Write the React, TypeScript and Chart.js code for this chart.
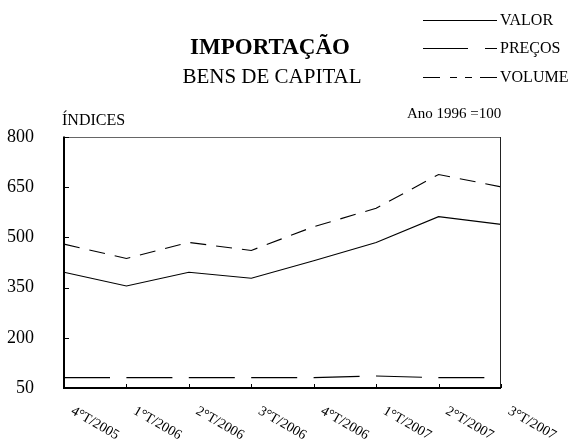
import React, { useEffect, useRef } from 'react';
import { Chart, registerables } from 'chart.js';

Chart.register(...registerables);

// ---- data ----
const categories = ['4°T/2005', '1°T/2006', '2°T/2006', '3°T/2006', '4°T/2006', '1°T/2007', '2°T/2007', '3°T/2007'];
const valorValues = [396, 355, 396, 378, 430, 485, 562, 539];
const precosValues = [81, 81, 81, 81, 81, 86, 81, 81];
const volumeValues = [480, 437, 485, 461, 532, 587, 688, 651];
const yTickValues = [50, 200, 350, 500, 650, 800];
const seriesNames = ['VALOR', 'PREÇOS', 'VOLUME'];
const titleText = 'IMPORTAÇÃO';
const subtitleText = 'BENS DE CAPITAL';
const yAxisTitle = 'ÍNDICES';
const baseNote = 'Ano 1996 =100';

const SERIF = '"Liberation Serif", "DejaVu Serif", "Times New Roman", serif';

// legend sample segments (x ranges) per series
const legendSegments: number[][][] = [
  [[423, 497]],
  [[423, 468], [485, 497]],
  [[423, 440], [450, 457], [465, 472], [480, 497]],
];
const legendRows = [20, 48, 77];

const decorPlugin = {
  id: 'decor',
  afterDraw(chart: any) {
    const ctx: CanvasRenderingContext2D = chart.ctx;
    const { left, right, top, bottom } = chart.chartArea;
    const xs = chart.scales.x;
    const ys = chart.scales.y;
    const seg = (x1: number, y1: number, x2: number, y2: number) => {
      ctx.beginPath();
      ctx.moveTo(x1, y1);
      ctx.lineTo(x2, y2);
      ctx.stroke();
    };
    ctx.save();
    ctx.setLineDash([]);
    // frame
    ctx.lineWidth = 1;
    ctx.strokeStyle = '#666';
    seg(left, top + 0.5, right, top + 0.5);
    ctx.strokeStyle = '#222';
    seg(right - 0.5, top, right - 0.5, bottom);
    ctx.strokeStyle = '#000';
    ctx.lineWidth = 2;
    seg(left, top - 0.5, left, bottom + 1);
    seg(left - 1, bottom, right, bottom);
    // ticks
    ctx.lineWidth = 1;
    ys.ticks.forEach((_t: any, i: number) => {
      const py = Math.round(ys.getPixelForTick(i)) + 0.5;
      seg(left, py, left + 5, py);
    });
    categories.forEach((_c, i) => {
      const px = Math.round(xs.getPixelForValue(i)) + 0.5;
      seg(px, bottom, px, bottom - 4);
    });
    // x labels rotated clockwise
    ctx.fillStyle = '#000';
    ctx.font = `14px ${SERIF}`;
    categories.forEach((c, i) => {
      const px = xs.getPixelForValue(i);
      ctx.save();
      ctx.translate(px + 8, bottom + 22);
      ctx.rotate((30 * Math.PI) / 180);
      ctx.textAlign = 'left';
      ctx.textBaseline = 'middle';
      ctx.fillText(c, 0, 0);
      ctx.restore();
    });
    // titles
    ctx.textAlign = 'center';
    ctx.textBaseline = 'alphabetic';
    ctx.font = `bold 23px ${SERIF}`;
    ctx.fillText(titleText, 270, 54);
    ctx.font = `21px ${SERIF}`;
    ctx.fillText(subtitleText, 272, 83);
    // axis title & note
    ctx.textAlign = 'left';
    ctx.font = `16px ${SERIF}`;
    ctx.fillText(yAxisTitle, 62, 125);
    ctx.font = `15px ${SERIF}`;
    ctx.fillText(baseNote, 407, 118);
    // legend
    ctx.font = `16px ${SERIF}`;
    ctx.textBaseline = 'middle';
    ctx.strokeStyle = '#000';
    ctx.lineWidth = 1;
    chart.data.datasets.forEach((ds: any, i: number) => {
      const yy = legendRows[i] + 0.5;
      legendSegments[i].forEach(([a, b]) => seg(a, yy, b, yy));
      ctx.fillText(ds.label, 500, legendRows[i] + 1);
    });
    ctx.restore();
  },
};

export default function App() {
  const ref = useRef<HTMLCanvasElement | null>(null);
  useEffect(() => {
    document.body.style.margin = '0';
    if (!ref.current) return;
    const chart = new Chart(ref.current, {
      type: 'line',
      data: {
        labels: categories,
        datasets: [
          { label: seriesNames[0], data: valorValues, borderColor: '#000', borderWidth: 1.1, pointRadius: 0, tension: 0, fill: false },
          { label: seriesNames[1], data: precosValues, borderColor: '#000', borderWidth: 1.1, borderDash: [46, 16.4], pointRadius: 0, tension: 0, fill: false },
          { label: seriesNames[2], data: volumeValues, borderColor: '#000', borderWidth: 1.1, borderDash: [16, 10], pointRadius: 0, tension: 0, fill: false },
        ],
      },
      options: {
        animation: false,
        responsive: false,
        maintainAspectRatio: false,
        layout: { padding: { top: 137, right: 87, bottom: 56, left: 0 } },
        plugins: {
          legend: { display: false },
          title: { display: false },
          tooltip: { enabled: false },
        },
        scales: {
          x: {
            type: 'category',
            offset: false,
            grid: { display: false },
            border: { display: false },
            ticks: { display: false },
            afterFit: (s: any) => { s.height = 0; },
          },
          y: {
            min: 50,
            max: 800,
            grid: { display: false },
            border: { display: false },
            afterBuildTicks: (s: any) => { s.ticks = yTickValues.map((v) => ({ value: v })); },
            ticks: {
              padding: 22,
              color: '#000',
              font: { family: SERIF, size: 18 },
            },
            afterFit: (s: any) => { s.width = 64; },
          },
        },
      },
      plugins: [decorPlugin],
    });
    return () => chart.destroy();
  }, []);
  return (
    <div style={{ width: 588, height: 444 }}>
      <canvas ref={ref} width={588} height={444} style={{ display: 'block', width: 588, height: 444 }} />
    </div>
  );
}
